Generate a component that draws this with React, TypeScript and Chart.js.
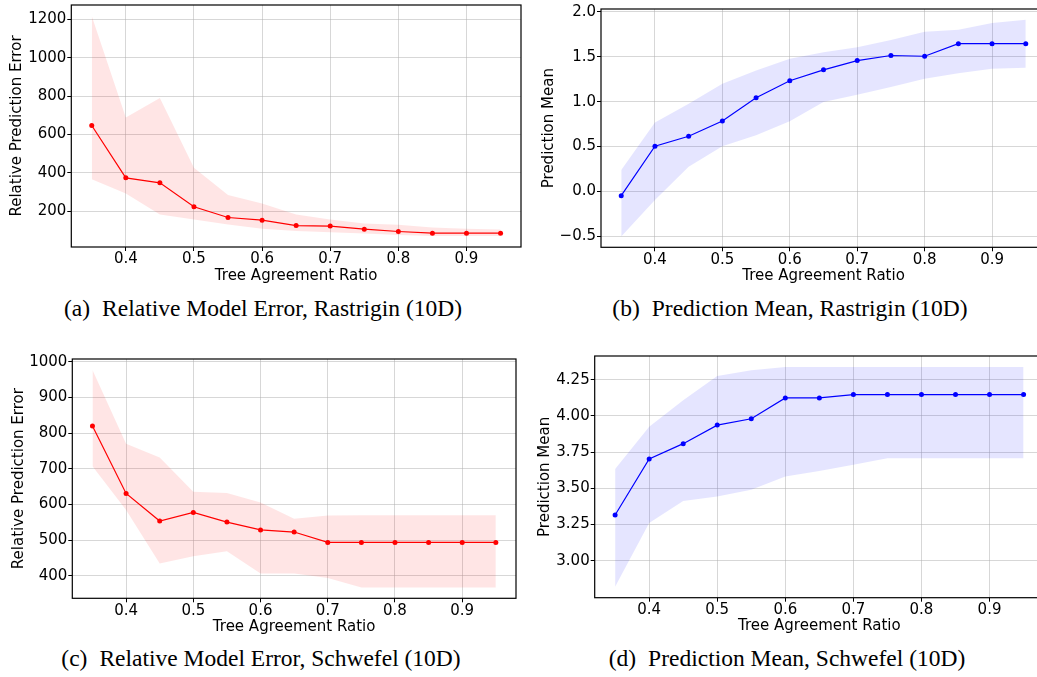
import React, { useEffect, useRef } from 'react';
import { Chart, registerables } from 'chart.js';

Chart.register(...registerables);

// ---- data ----
const ratios = [0.35, 0.4, 0.45, 0.5, 0.55, 0.6, 0.65, 0.7, 0.75, 0.8, 0.85, 0.9, 0.95];
const xTicks = [0.4, 0.5, 0.6, 0.7, 0.8, 0.9];

const rastriginErrMean = [647, 374, 348, 223, 167, 153, 125, 122, 106, 94, 85, 85, 85];
const rastriginErrUpper = [1219, 689, 791, 426, 285, 240, 183, 157, 136, 129, 115, 108, 104];
const rastriginErrLower = [367, 292, 183, 157, 130, 108, 97, 90, 83, 75, 71, 71, 71];
const rastriginErrTicks = [200, 400, 600, 800, 1000, 1200];

const rastriginMean = [-0.046, 0.504, 0.615, 0.785, 1.044, 1.232, 1.354, 1.457, 1.513, 1.505, 1.645, 1.645, 1.645];
const rastriginMeanUpper = [0.239, 0.767, 0.977, 1.199, 1.346, 1.476, 1.549, 1.605, 1.686, 1.778, 1.8, 1.874, 1.91];
const rastriginMeanLower = [-0.5, -0.094, 0.275, 0.504, 0.626, 0.781, 0.996, 1.077, 1.162, 1.254, 1.317, 1.365, 1.376];
const rastriginMeanTicks = [-0.5, 0.0, 0.5, 1.0, 1.5, 2.0];

const schwefelErrMean = [820, 631, 554, 578, 551, 529, 523, 494, 494, 494, 494, 494, 494];
const schwefelErrUpper = [977, 770, 732, 636, 632, 606, 560, 569, 570, 570, 570, 570, 570];
const schwefelErrLower = [707, 585, 435, 455, 469, 407, 407, 394, 368, 368, 368, 368, 368];
const schwefelErrTicks = [400, 500, 600, 700, 800, 900, 1000];

const schwefelMean = [3.316, 3.703, 3.808, 3.936, 3.98, 4.124, 4.124, 4.147, 4.147, 4.147, 4.147, 4.147, 4.147];
const schwefelMeanUpper = [3.634, 3.925, 4.108, 4.275, 4.314, 4.337, 4.337, 4.337, 4.337, 4.337, 4.337, 4.337, 4.337];
const schwefelMeanLower = [2.821, 3.261, 3.412, 3.444, 3.49, 3.581, 3.62, 3.662, 3.707, 3.707, 3.707, 3.707, 3.707];
const schwefelMeanTicks = [3.0, 3.25, 3.5, 3.75, 4.0, 4.25];

const FONT = "'DejaVu Sans', sans-serif";
const PAD_TOP = 12;
const PAD_RIGHT = 5;
const X_AXIS_H = 37.5;

const frameBorder = {
  id: 'frameBorder',
  afterDatasetsDraw(chart: any) {
    const { ctx, chartArea: a } = chart;
    ctx.save();
    ctx.strokeStyle = '#000';
    ctx.lineWidth = 1.2;
    ctx.strokeRect(a.left, a.top, a.right - a.left, a.bottom - a.top);
    ctx.restore();
  },
};

type PanelProps = {
  L: number; T: number; R: number; B: number;
  canvasLeft: number; titlePad: number;
  mean: number[]; upper: number[]; lower: number[];
  yTicks: number[]; yMin: number; yMax: number; decimals: number;
  color: string; fill: string; yTitle: string;
};

function Panel(p: PanelProps) {
  const ref = useRef<HTMLCanvasElement | null>(null);
  const canvasTop = Math.round(p.T - PAD_TOP);
  const width = Math.ceil(p.R + PAD_RIGHT - p.canvasLeft);
  const height = Math.round(p.B + X_AXIS_H - canvasTop);
  const yW = p.L - p.canvasLeft;
  const xH = height - (p.B - canvasTop);

  useEffect(() => {
    const toPts = (arr: number[]) => arr.map((v, i) => ({ x: ratios[i], y: v }));
    const chart = new Chart(ref.current as HTMLCanvasElement, {
      type: 'line',
      data: {
        datasets: [
          {
            data: toPts(p.mean),
            borderColor: p.color,
            backgroundColor: p.color,
            borderWidth: 1.2,
            pointRadius: 2.5,
            pointBorderWidth: 0,
            pointBackgroundColor: p.color,
            tension: 0,
            fill: false,
          },
          {
            data: toPts(p.upper),
            borderWidth: 0,
            borderColor: 'rgba(0,0,0,0)',
            pointRadius: 0,
            backgroundColor: p.fill,
            fill: '+1',
            tension: 0,
          },
          {
            data: toPts(p.lower),
            borderWidth: 0,
            borderColor: 'rgba(0,0,0,0)',
            pointRadius: 0,
            fill: false,
            tension: 0,
          },
        ],
      },
      options: {
        animation: false,
        responsive: false,
        maintainAspectRatio: false,
        devicePixelRatio: 1,
        layout: { padding: { top: PAD_TOP, right: PAD_RIGHT, left: 0, bottom: 0 } },
        plugins: { legend: { display: false }, tooltip: { enabled: false } },
        scales: {
          x: {
            type: 'linear',
            min: 0.32,
            max: 0.98,
            afterBuildTicks: (s: any) => { s.ticks = xTicks.map((v) => ({ value: v })); },
            afterFit: (s: any) => { s.height = xH; },
            grid: { color: 'rgba(176,176,176,0.5)', lineWidth: 1, tickColor: '#000', tickLength: 4, tickWidth: 1 },
            border: { display: false },
            ticks: {
              color: '#000',
              font: { family: FONT, size: 15, lineHeight: 1 },
              padding: 1,
              maxRotation: 0,
              autoSkip: false,
              callback: (v: any) => Number(v).toFixed(1),
            },
            title: {
              display: true,
              text: 'Tree Agreement Ratio',
              color: '#000',
              font: { family: FONT, size: 15, lineHeight: 1.2 },
              padding: { top: 0, bottom: 0 },
            },
          },
          y: {
            type: 'linear',
            min: p.yMin,
            max: p.yMax,
            afterBuildTicks: (s: any) => { s.ticks = p.yTicks.map((v) => ({ value: v })); },
            afterFit: (s: any) => { s.width = yW; },
            grid: { color: 'rgba(176,176,176,0.5)', lineWidth: 1, tickColor: '#000', tickLength: 4, tickWidth: 1 },
            border: { display: false },
            ticks: {
              color: '#000',
              font: { family: FONT, size: 15, lineHeight: 1.2 },
              padding: 1,
              autoSkip: false,
              callback: (v: any) => Number(v).toFixed(p.decimals).replace('-', '\u2212'),
            },
            title: {
              display: true,
              text: p.yTitle,
              color: '#000',
              font: { family: FONT, size: 15, lineHeight: 1.2 },
              padding: { top: p.titlePad, bottom: 0 },
            },
          },
        },
      } as any,
      plugins: [frameBorder],
    });
    return () => chart.destroy();
  }, []);

  return (
    <canvas
      ref={ref}
      width={width}
      height={height}
      style={{ position: 'absolute', left: p.canvasLeft, top: canvasTop, width, height }}
    />
  );
}

function Caption({ label, text, cx, baseline }: { label: string; text: string; cx: number; baseline: number }) {
  return (
    <div
      style={{
        position: 'absolute',
        left: cx - 300,
        width: 600,
        top: baseline - 19.6,
        textAlign: 'center',
        whiteSpace: 'nowrap',
        fontFamily: "'Liberation Serif', 'Times New Roman', serif",
        fontSize: 23.5,
        lineHeight: '23.5px',
        color: '#000',
      }}
    >
      <span>{label}</span>
      <span style={{ marginLeft: 12 }}>{text}</span>
    </div>
  );
}

export default function App() {
  return (
    <div
      style={{
        position: 'fixed',
        left: 0,
        top: 0,
        width: 1037,
        height: 677,
        overflow: 'hidden',
        background: '#fff',
      }}
    >
      <Panel
        L={71.3} T={5} R={520.3} B={247} canvasLeft={0} titlePad={8.5}
        mean={rastriginErrMean} upper={rastriginErrUpper} lower={rastriginErrLower}
        yTicks={rastriginErrTicks} yMin={13} yMax={1276} decimals={0}
        color="#ff0000" fill="rgba(255,0,0,0.1)" yTitle="Relative Prediction Error"
      />
      <Panel
        L={601} T={9} R={1046} B={247.3} canvasLeft={530} titlePad={10}
        mean={rastriginMean} upper={rastriginMeanUpper} lower={rastriginMeanLower}
        yTicks={rastriginMeanTicks} yMin={-0.6205} yMax={2.0305} decimals={1}
        color="#0000ff" fill="rgba(0,0,255,0.1)" yTitle="Prediction Mean"
      />
      <Panel
        L={72.3} T={359.3} R={516} B={598.3} canvasLeft={0} titlePad={9.7}
        mean={schwefelErrMean} upper={schwefelErrUpper} lower={schwefelErrLower}
        yTicks={schwefelErrTicks} yMin={337.5} yMax={1007.5} decimals={0}
        color="#ff0000" fill="rgba(255,0,0,0.1)" yTitle="Relative Prediction Error"
      />
      <Panel
        L={594.7} T={355.7} R={1043.6} B={597.7} canvasLeft={525} titlePad={11}
        mean={schwefelMean} upper={schwefelMeanUpper} lower={schwefelMeanLower}
        yTicks={schwefelMeanTicks} yMin={2.745} yMax={4.413} decimals={2}
        color="#0000ff" fill="rgba(0,0,255,0.1)" yTitle="Prediction Mean"
      />
      <Caption label="(a)" text="Relative Model Error, Rastrigin (10D)" cx={263} baseline={317} />
      <Caption label="(b)" text="Prediction Mean, Rastrigin (10D)" cx={790} baseline={317} />
      <Caption label="(c)" text="Relative Model Error, Schwefel (10D)" cx={261} baseline={667} />
      <Caption label="(d)" text="Prediction Mean, Schwefel (10D)" cx={787} baseline={667} />
    </div>
  );
}
